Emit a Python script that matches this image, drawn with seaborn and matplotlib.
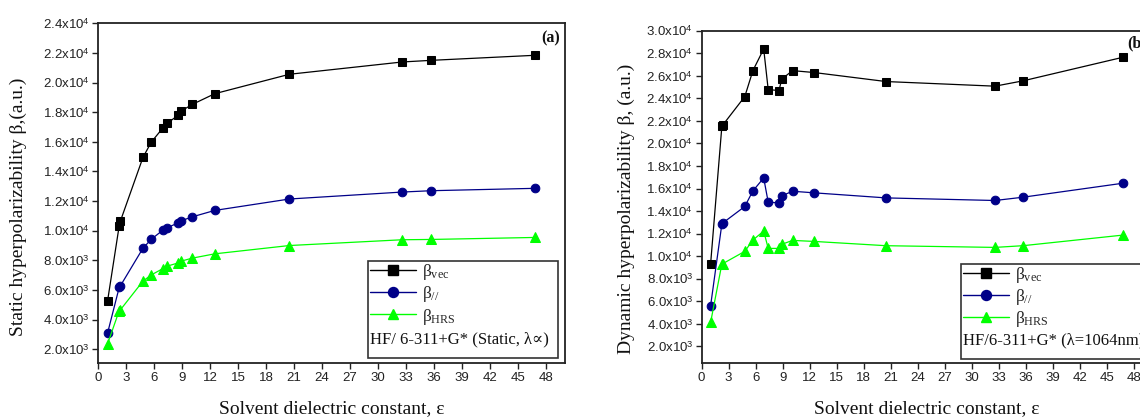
import numpy as np
import pandas as pd
import matplotlib
matplotlib.use("Agg")
import matplotlib.pyplot as plt
from matplotlib.patches import Rectangle
from matplotlib.lines import Line2D
import seaborn as sns

# ---------------- data ----------------
eps = [1.0, 2.25, 2.38, 4.8, 5.7, 6.9, 7.4, 8.6, 8.9, 10.1, 12.5, 20.5, 32.6, 35.7, 46.8]

static_vec = [5240, 10330, 10650, 14950, 15990, 16910, 17250, 17810, 18080, 18530, 19250, 20560, 21390, 21500, 21840]
static_par = [3080, 6170, 6280, 8820, 9430, 10020, 10200, 10540, 10670, 10940, 11370, 12140, 12610, 12700, 12860]
static_hrs = [2350, 4600, 4660, 6600, 7020, 7430, 7610, 7830, 7950, 8150, 8440, 9000, 9390, 9410, 9545]

dyn_vec = [9310, 21510, 21660, 24160, 26460, 28380, 24780, 24690, 25700, 26460, 26290, 25490, 25080, 25550, 27640]
dyn_par = [5600, 12850, 12960, 14410, 15790, 16940, 14790, 14730, 15350, 15760, 15620, 15170, 14940, 15230, 16470]
dyn_hrs = [4120, 9300, 9350, 10430, 11430, 12230, 10690, 10690, 11050, 11400, 11310, 10930, 10780, 10930, 11870]

series_names = [r"$\beta_{\mathrm{vec}}$", r"$\beta_{//}$", r"$\beta_{\mathrm{HRS}}$"]

x_ticks = [0, 3, 6, 9, 12, 15, 18, 21, 24, 27, 30, 33, 36, 39, 42, 45, 48]
x_ticklabels = ["0", "3", "6", "9", "12", "15", "18", "21", "24", "27", "30", "33", "36", "39", "42", "45", "48"]

yl_ticks = [2000, 4000, 6000, 8000, 10000, 12000, 14000, 16000, 18000, 20000, 22000, 24000]
yl_ticklabels = ["2.0x10$^{\\mathsf{3}}$", "4.0x10$^{\\mathsf{3}}$", "6.0x10$^{\\mathsf{3}}$", "8.0x10$^{\\mathsf{3}}$",
                 "1.0x10$^{\\mathsf{4}}$", "1.2x10$^{\\mathsf{4}}$", "1.4x10$^{\\mathsf{4}}$", "1.6x10$^{\\mathsf{4}}$",
                 "1.8x10$^{\\mathsf{4}}$", "2.0x10$^{\\mathsf{4}}$", "2.2x10$^{\\mathsf{4}}$", "2.4x10$^{\\mathsf{4}}$"]

yr_ticks = [2000, 4000, 6000, 8000, 10000, 12000, 14000, 16000, 18000, 20000, 22000, 24000, 26000, 28000, 30000]
yr_ticklabels = ["2.0x10$^{\\mathsf{3}}$", "4.0x10$^{\\mathsf{3}}$", "6.0x10$^{\\mathsf{3}}$", "8.0x10$^{\\mathsf{3}}$",
                 "1.0x10$^{\\mathsf{4}}$", "1.2x10$^{\\mathsf{4}}$", "1.4x10$^{\\mathsf{4}}$", "1.6x10$^{\\mathsf{4}}$",
                 "1.8x10$^{\\mathsf{4}}$", "2.0x10$^{\\mathsf{4}}$", "2.2x10$^{\\mathsf{4}}$", "2.4x10$^{\\mathsf{4}}$",
                 "2.6x10$^{\\mathsf{4}}$", "2.8x10$^{\\mathsf{4}}$", "3.0x10$^{\\mathsf{4}}$"]

# ---------------- style ----------------
sns.set_theme(style="ticks")
plt.rcParams["font.family"] = ["Liberation Sans", "DejaVu Sans"]
plt.rcParams["mathtext.fontset"] = "custom"
plt.rcParams["mathtext.rm"] = "Liberation Serif"
plt.rcParams["mathtext.it"] = "Liberation Serif:italic"
plt.rcParams["mathtext.sf"] = "Liberation Sans"
plt.rcParams["mathtext.default"] = "rm"

SERIF = ["Liberation Serif", "DejaVu Serif"]
colors = ["#000000", "#000088", "#00ff00"]
markers = ["s", "o", "^"]
msizes = [5.5, 6.2, 6.5]

fig = plt.figure(figsize=(11.4, 4.19), dpi=100)
axL = fig.add_axes([98.2 / 1140, 1 - 363.3 / 419, (564.7 - 98.2) / 1140, (363.3 - 23.3) / 419])
axR = fig.add_axes([701.6 / 1140, 1 - 363.3 / 419, 450 / 1140, (363.3 - 30.7) / 419])


def draw_panel(ax, ys, yticks, yticklabels, ylim, ylabel, method, tag, leg_box, tag_y, ylab_coords, xlab_y):
    for i, (y, name) in enumerate(zip(ys, series_names)):
        df = pd.DataFrame({"eps": eps, "beta": y})
        sns.lineplot(data=df, x="eps", y="beta", ax=ax, color=colors[i], marker=markers[i],
                     markersize=msizes[i], markeredgecolor=colors[i], linewidth=0.9,
                     estimator=None, sort=False, legend=False)
    ax.set_xlim(0, 50)
    ax.set_ylim(*ylim)
    ax.set_xticks(x_ticks)
    ax.set_xticklabels(x_ticklabels)
    ax.set_yticks(yticks)
    ax.set_yticklabels(yticklabels)
    ax.tick_params(axis="both", direction="out", length=4, width=1.0, labelsize=9.5,
                   colors="#222222", pad=2)
    for s in ax.spines.values():
        s.set_color("#222222")
        s.set_linewidth(1.3)
    ax.set_xlabel("Solvent dielectric constant, ε", family=SERIF, fontsize=14, color="#111111")
    ax.set_ylabel(ylabel, family=SERIF, fontsize=14, color="#111111")
    ax.xaxis.set_label_coords(0.5, xlab_y)
    ax.yaxis.set_label_coords(*ylab_coords)
    ax.text(0.99, tag_y, tag, transform=ax.transAxes, ha="right", va="center",
            family=SERIF, fontsize=11.5, fontweight="bold", color="#111111")
    # legend box
    x0, y0, w, h = leg_box
    ax.add_patch(Rectangle((x0, y0), w, h, transform=ax.transAxes, fill=True,
                           facecolor="white", edgecolor="#333333", linewidth=1.2, zorder=5))
    handles = [Line2D([], [], color=colors[i], marker=markers[i], markersize=msizes[i] + 1,
                      markeredgecolor=colors[i], linewidth=1.0) for i in range(3)]
    leg = ax.legend(handles, series_names, loc="upper left", bbox_to_anchor=(x0, y0 + h + 0.003),
                    frameon=False, fontsize=12.5, handlelength=2.7, handletextpad=0.3,
                    labelspacing=0.14, borderpad=0.1, borderaxespad=0.0)
    leg.set_zorder(6)
    ax.text(x0 + 0.004, y0 + 0.055, method, transform=ax.transAxes, ha="left", va="center",
            family=SERIF, fontsize=12, color="#111111", zorder=7)


draw_panel(axL, [static_vec, static_par, static_hrs], yl_ticks, yl_ticklabels, (1050, 24000),
           "Static hyperpolarizability β,(a.u.)", "HF/ 6-311+G* (Static, λ∝)", "(a)",
           (0.578, 0.016, 0.407, 0.285), 0.955, (-0.152, 0.461), -0.108)
draw_panel(axR, [dyn_vec, dyn_par, dyn_hrs], yr_ticks, yr_ticklabels, (500, 30000),
           "Dynamic hyperpolarizability β, (a.u.)", "HF/6-311+G* (λ=1064nm)", "(b)",
           (0.576, 0.013, 0.41, 0.286), 0.961, (-0.147, 0.464), -0.110)

fig.savefig("out.png", dpi=100)
